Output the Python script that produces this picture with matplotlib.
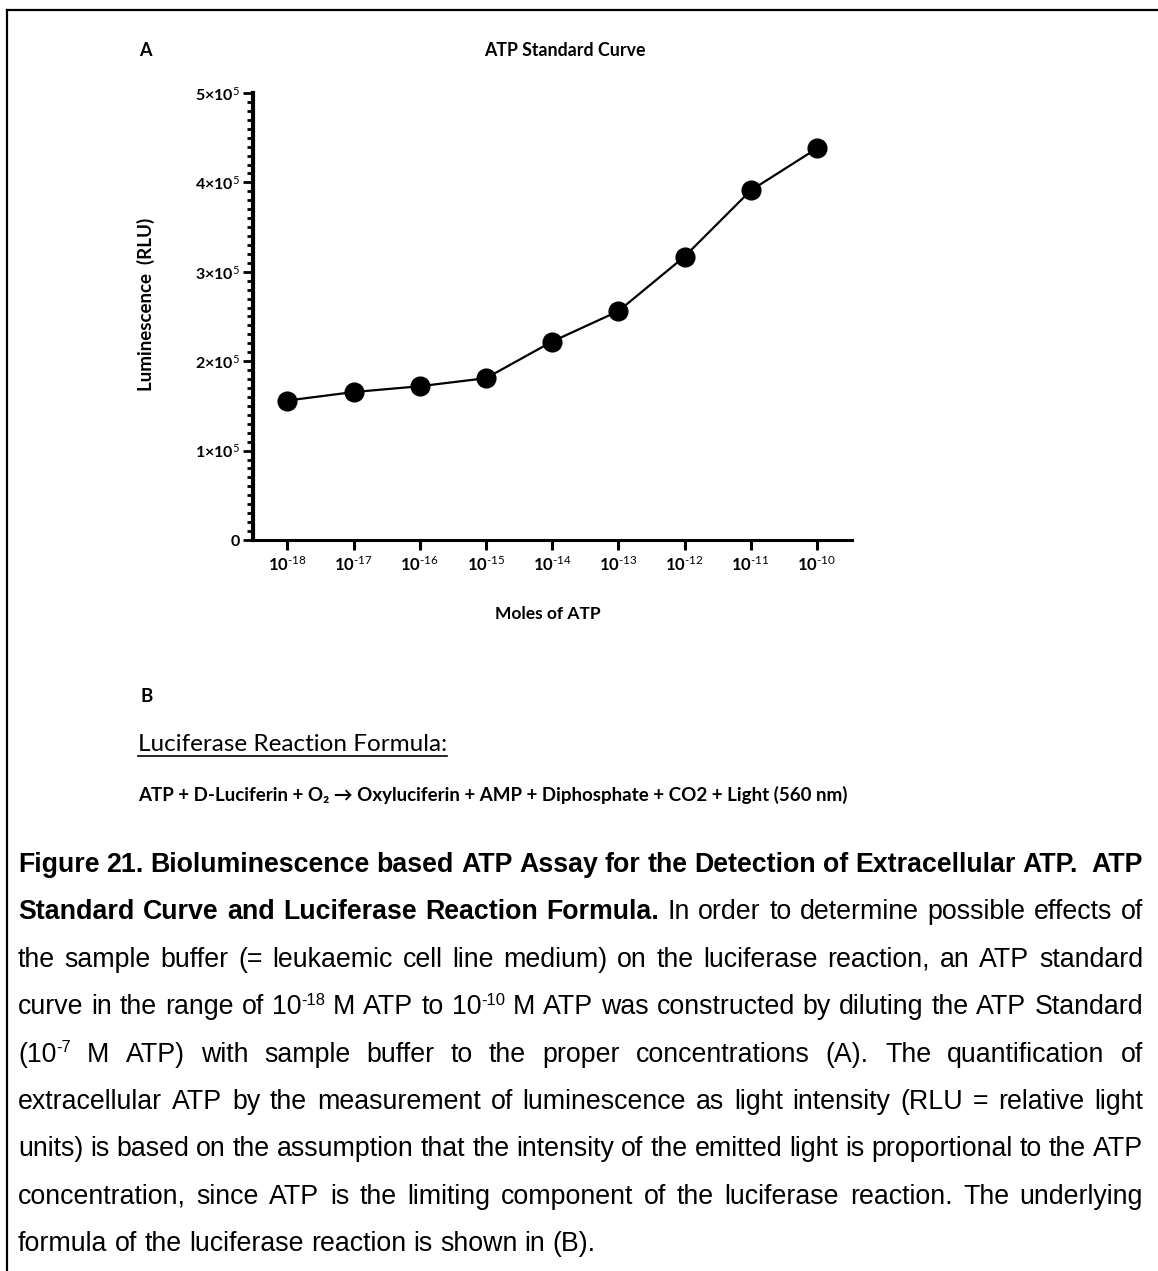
import matplotlib.pyplot as plt
from matplotlib.lines import Line2D
from matplotlib.ticker import MultipleLocator, NullLocator

# canvas size in pixels
W, H = 1158, 1271
DPI = 100

# ATP standard curve
moles = [1e-18, 1e-17, 1e-16, 1e-15, 1e-14, 1e-13, 1e-12, 1e-11, 1e-10]
rlu = [156000, 165500, 172000, 181000, 222000, 256000, 317000, 391000, 438000]
x_tick_labels = [r'$\mathbf{10}^{\text{-%d}}$' % n for n in range(18, 9, -1)]
y_ticks = [0, 1e5, 2e5, 3e5, 4e5, 5e5]
y_tick_labels = [r'$\mathbf{0}$'] + [r'$\mathbf{%d{\times}10}^{\mathrm{5}}$' % k for k in range(1, 6)]

reaction_title = 'Luciferase Reaction Formula:'
reaction = 'ATP + D-Luciferin + O\u2082 \u2192 Oxyluciferin + AMP + Diphosphate + CO2 + Light (560 nm)'

# caption lines: (text, number of leading bold words, justified?)
caption = [
    ('Figure 21. Bioluminescence based ATP Assay for the Detection of Extracellular ATP.  ATP', 99, True),
    ('Standard Curve and Luciferase Reaction Formula. In order to determine possible effects of', 6, True),
    ('the sample buffer (= leukaemic cell line medium) on the luciferase reaction, an ATP standard', 0, True),
    ('curve in the range of 10^-18 M ATP to 10^-10 M ATP was constructed by diluting the ATP Standard', 0, True),
    ('(10^-7 M ATP) with sample buffer to the proper concentrations (A). The quantification of', 0, True),
    ('extracellular ATP by the measurement of luminescence as light intensity (RLU = relative light', 0, True),
    ('units) is based on the assumption that the intensity of the emitted light is proportional to the ATP', 0, True),
    ('concentration, since ATP is the limiting component of the luciferase reaction. The underlying', 0, True),
    ('formula of the luciferase reaction is shown in (B).', 0, False),
]

plt.rcParams['mathtext.fontset'] = 'custom'
plt.rcParams['mathtext.rm'] = 'Lato'
plt.rcParams['mathtext.bf'] = 'Lato:bold'
plt.rcParams['mathtext.it'] = 'Lato:italic'
plt.rcParams['mathtext.fallback'] = 'stixsans'

CHART_FONT = ['Lato', 'DejaVu Sans']
CAP_FONT = ['Liberation Sans', 'DejaVu Sans']


def fx(px):
    return px / W


def fy(py):
    return 1 - py / H


fig = plt.figure(figsize=(W / DPI, H / DPI), dpi=DPI)

# frame lines on the left and top
fig.add_artist(Line2D([fx(7), fx(7)], [fy(10), 0], color='black', lw=1.6))
fig.add_artist(Line2D([fx(7), 1], [fy(10), fy(10)], color='black', lw=1.6))

# --- panel A ---
ax = fig.add_axes([fx(253), fy(540), 599 / W, 447 / H])
ax.plot(moles, rlu, color='black', lw=1.6, marker='o', ms=13.5,
        mfc='black', mec='black', clip_on=False, zorder=3)
ax.set_xscale('log')
ax.set_xlim(10 ** -18.52, 10 ** -9.47)
ax.set_ylim(0, 5e5)
for side in ['top', 'right']:
    ax.spines[side].set_visible(False)
ax.spines['left'].set_linewidth(3.0)
ax.spines['bottom'].set_linewidth(2.2)

ax.set_xticks(moles, labels=x_tick_labels)
ax.xaxis.set_minor_locator(NullLocator())
ax.set_yticks(y_ticks, labels=y_tick_labels)
ax.yaxis.set_minor_locator(MultipleLocator(1e4))
ax.tick_params(axis='y', which='major', length=7.5, width=2.0, pad=1.5, labelsize=11.5)
ax.tick_params(axis='y', which='minor', length=4, width=2.0)
ax.tick_params(axis='x', which='major', length=7, width=2.2, pad=4, labelsize=12)

ax.set_ylabel('Luminescence  (RLU)', fontsize=13.5, fontweight='bold', family=CHART_FONT)
ax.yaxis.set_label_coords(-0.163, 0.527)
ax.set_xlabel('Moles of ATP', fontsize=12.5, fontweight='bold', family=CHART_FONT)
ax.xaxis.set_label_coords(0.4925, -0.148)

fig.text(fx(565), fy(50), 'ATP Standard Curve', ha='center', va='center',
         fontsize=12.8, fontweight='bold', family=CHART_FONT)
fig.text(fx(145), fy(50), 'A', ha='center', va='center',
         fontsize=13, fontweight='bold', family=CHART_FONT)

# --- panel B ---
fig.text(fx(147), fy(697), 'B', ha='center', va='center',
         fontsize=13.5, fontweight='bold', family=CHART_FONT)
t_title = fig.text(fx(138), fy(751), reaction_title, ha='left', va='baseline',
                   fontsize=17.5, family=CHART_FONT)
fig.text(fx(138), fy(801), reaction, ha='left', va='baseline',
         fontsize=13.5, fontweight='bold', family=CHART_FONT)

fig.canvas.draw()
renderer = fig.canvas.get_renderer()

bb = t_title.get_window_extent(renderer)
fig.add_artist(Line2D([fx(bb.x0), fx(bb.x1)], [fy(756), fy(756)], color='black', lw=1.2))

# --- justified caption ---
CAP_SIZE = 19.3
SUP_SIZE = CAP_SIZE * 0.62
LEFT, RIGHT = 18, 1143
BASE0, STEP = 872, 47.4


def make_word(word, weight):
    # a word is one or two text pieces (base + raised superscript)
    parts = word.split('^')
    pieces = []
    t = fig.text(0, 0, parts[0], fontsize=CAP_SIZE, fontweight=weight,
                 family=CAP_FONT, va='baseline', ha='left')
    pieces.append((t, 0.0, t.get_window_extent(renderer).width if parts[0] else 0.0))
    if len(parts) > 1:
        s = fig.text(0, 0, parts[1], fontsize=SUP_SIZE, fontweight=weight,
                     family=CAP_FONT, va='baseline', ha='left')
        pieces.append((s, CAP_SIZE * DPI / 72 * 0.36, s.get_window_extent(renderer).width))
    return pieces


def space_width(weight):
    a = fig.text(0, 0, 'a a', fontsize=CAP_SIZE, fontweight=weight, family=CAP_FONT)
    b = fig.text(0, 0, 'aa', fontsize=CAP_SIZE, fontweight=weight, family=CAP_FONT)
    w = a.get_window_extent(renderer).width - b.get_window_extent(renderer).width
    a.remove()
    b.remove()
    return w


natural_space = space_width('normal')

for i, (text, n_bold, justify) in enumerate(caption):
    words = text.split(' ')
    built = []
    for j, w in enumerate(words):
        weight = 'bold' if j < n_bold else 'normal'
        built.append(make_word(w, weight))
    widths = [sum(p[2] for p in pcs) for pcs in built]
    if justify:
        gap = (RIGHT - LEFT - sum(widths)) / (len(words) - 1)
    else:
        gap = natural_space
    base = BASE0 + i * STEP
    x = LEFT
    for pcs, wd in zip(built, widths):
        cx = x
        for t, rise, pw in pcs:
            t.set_position((fx(cx), fy(base - rise)))
            cx += pw
        x += wd + gap

fig.savefig('out.png', dpi=DPI)
